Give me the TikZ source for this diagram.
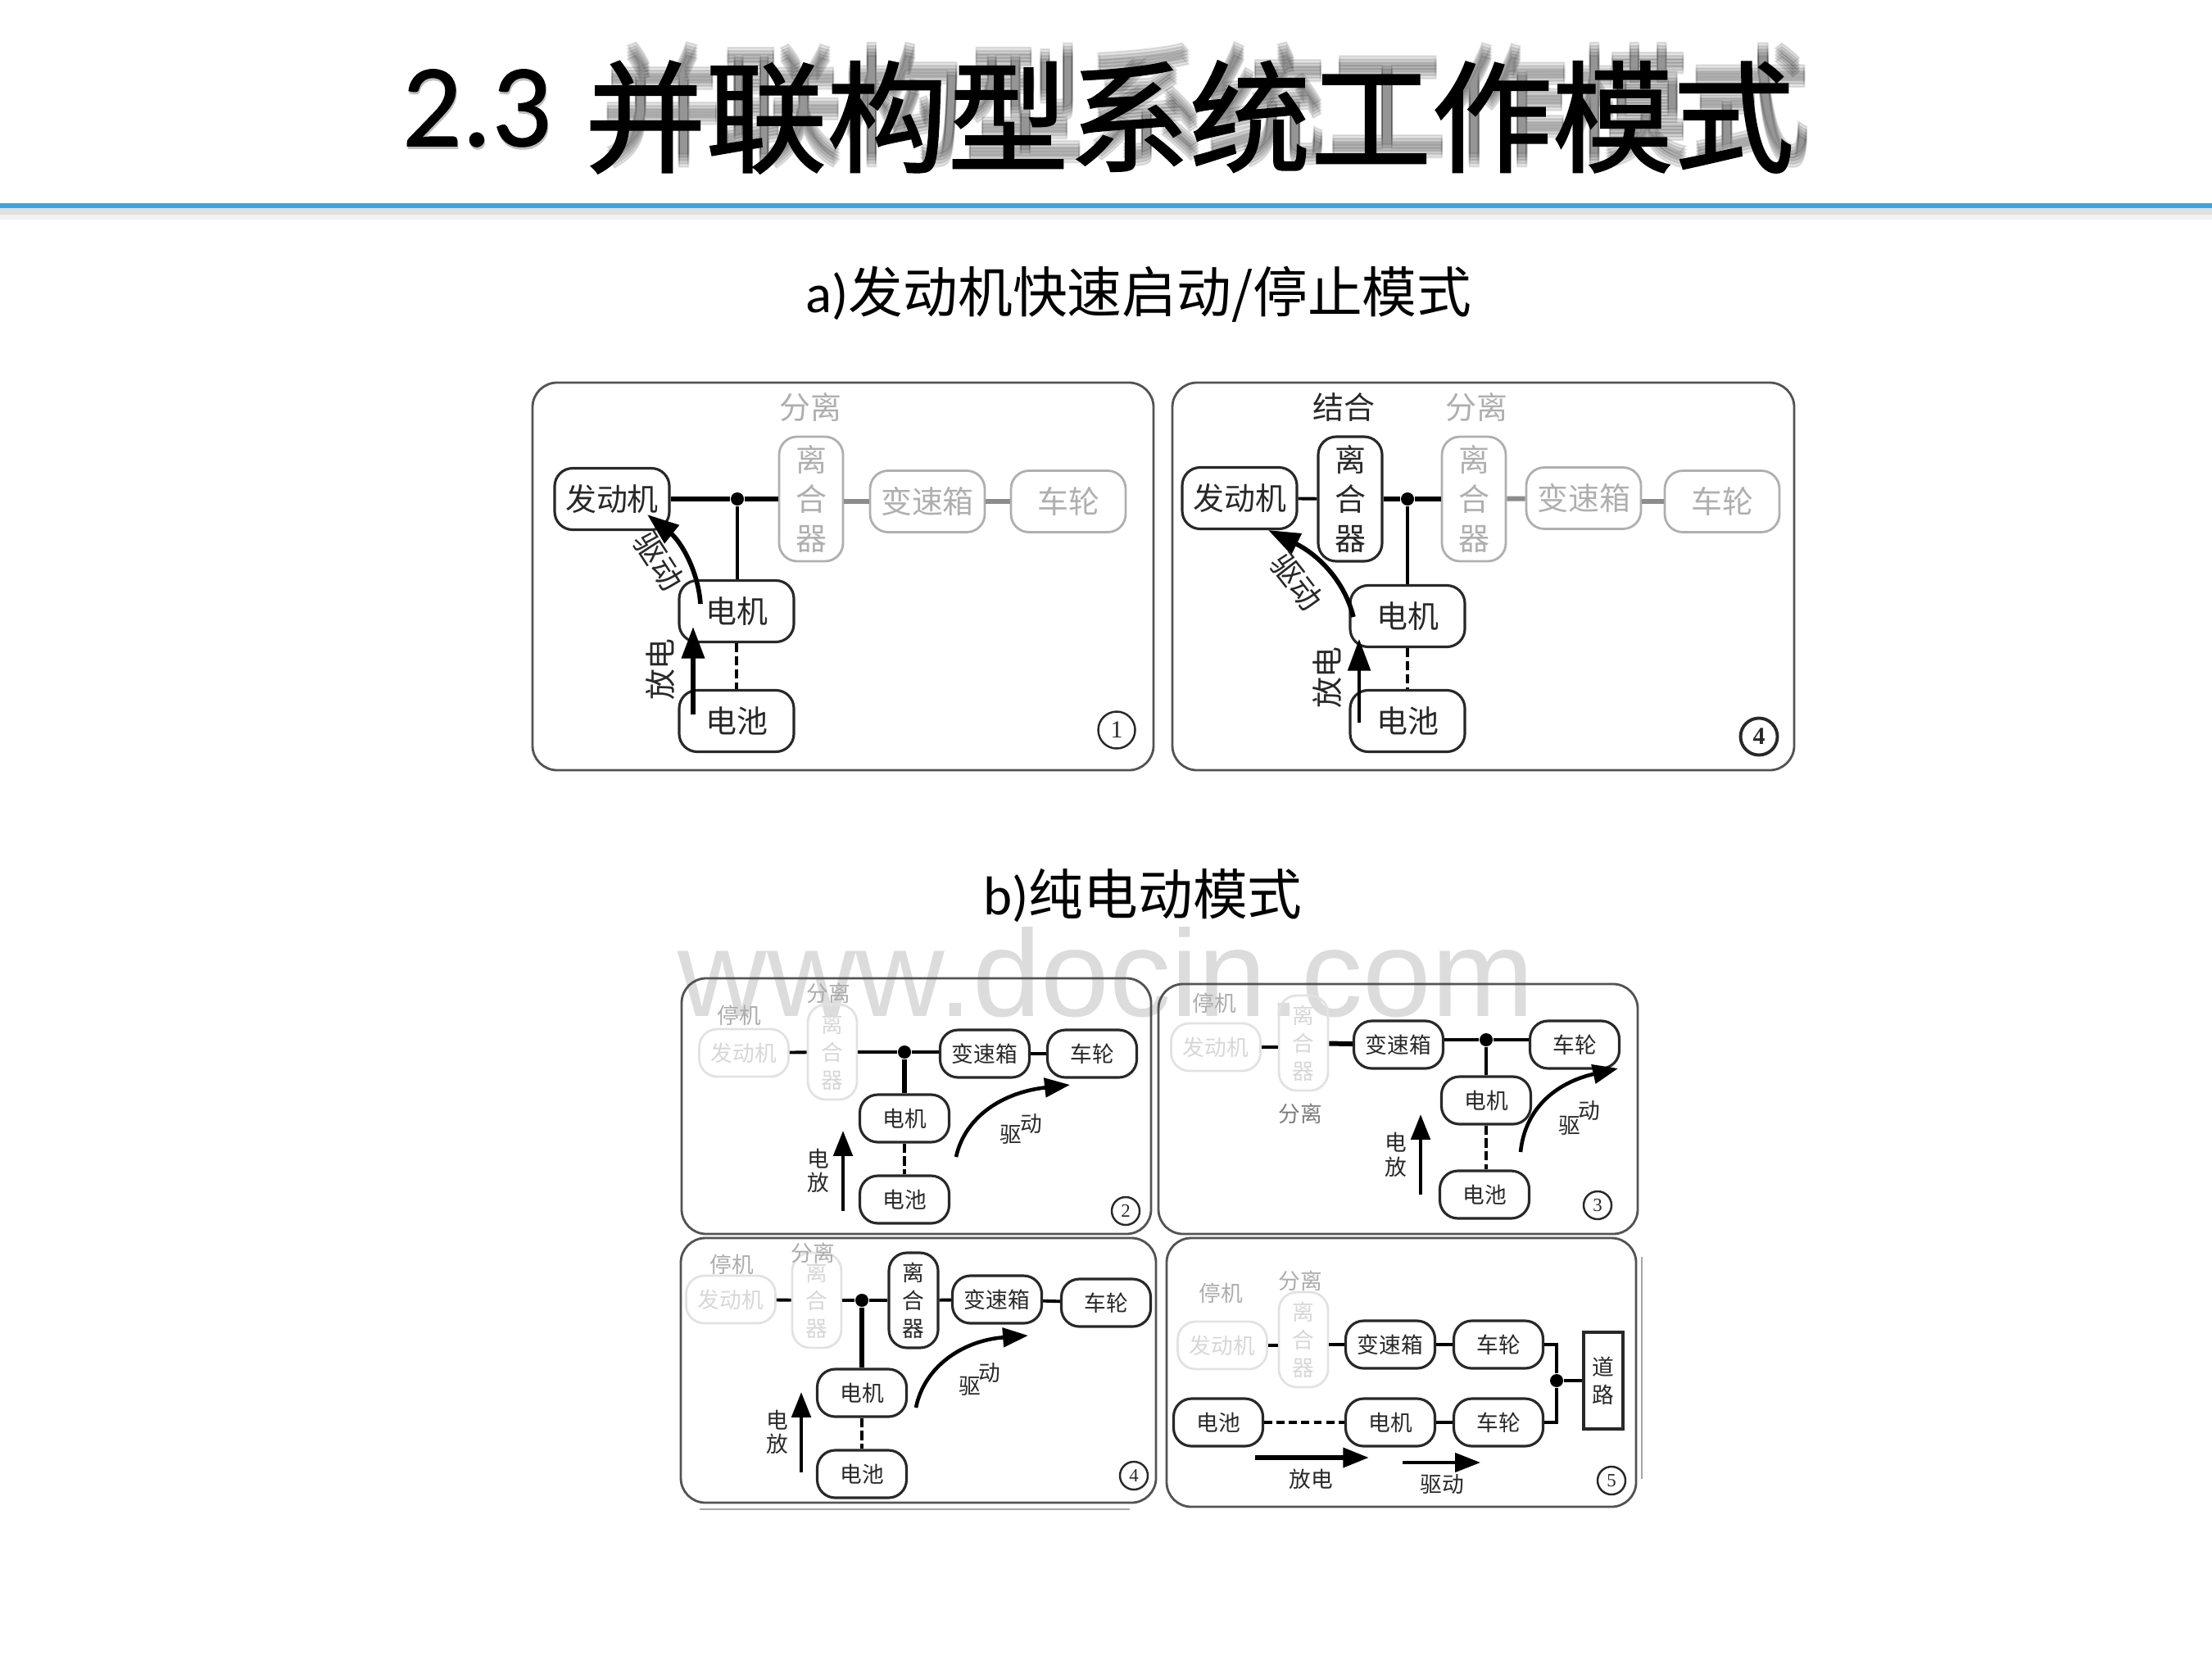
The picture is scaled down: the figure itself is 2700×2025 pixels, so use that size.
\documentclass[tikz,border=0pt]{standalone}
\usepackage{xcolor}
\usepackage{fontspec}
\setmainfont{Noto Sans CJK SC}
\newfontfamily\latfont{Carlito}
\newfontfamily\titlefont[FakeBold=1.4]{Noto Sans CJK SC}
\newfontfamily\titlenumfont[FakeBold=0.8]{Carlito}
\newfontfamily\numfont{Liberation Serif}
\newfontfamily\wmfont{Liberation Sans}
\usepackage{tikz}
\usetikzlibrary{arrows.meta, positioning}
\definecolor{myblue}{RGB}{58,166,224}
\definecolor{mydark}{RGB}{40,40,40}
\definecolor{mygray}{RGB}{175,175,175}
\definecolor{mypale}{RGB}{226,226,226}
\definecolor{mypaletext}{RGB}{215,215,215}
\definecolor{mywater}{RGB}{220,220,220}
\tikzset{
  bigfont/.style={font=\fontsize{10.8}{13.6}\selectfont},
  smallfont/.style={font=\fontsize{7.6}{9.7}\selectfont},
  unit/.style={rectangle,rounded corners=2.2mm,inner sep=0pt,align=center},
  bigunit/.style={unit,bigfont,minimum width=14mm,minimum height=7.5mm},
  bigclutch/.style={unit,bigfont,minimum width=7.8mm,minimum height=15.2mm},
  smallunit/.style={unit,smallfont,minimum width=10.9mm,minimum height=5.8mm},
  smallclutch/.style={unit,smallfont,minimum width=6mm,minimum height=11.6mm},
  oncol/.style={draw=mydark,line width=0.9pt,text=mydark},
  fadecol/.style={draw=mygray,line width=0.8pt,text=mygray},
  palecol/.style={draw=mypale,line width=0.8pt,text=mypaletext},
  panel/.style={draw=mydark!80,line width=0.8pt,rounded corners=3mm},
  residue/.style={draw=black!35,line width=0.6pt},
  junct/.style={circle,fill=black,inner sep=0pt,minimum size=1.6mm},
  bigshaft/.style={line width=1.5pt,color=black},
  bigfade/.style={line width=1.7pt,color=mygray!80!black},
  shaft/.style={line width=1.1pt,color=black},
  fatshaft/.style={line width=1.7pt,color=black},
  dashlink/.style={line width=1.3pt,color=black,dash pattern=on 3.2pt off 1.3pt},
  bigarrow/.style={-{Triangle[length=11pt,width=7.8pt]},line width=1.6pt,color=black},
  smallarrow/.style={-{Triangle[length=8.8pt,width=6.6pt]},line width=1.3pt,color=black},
  numring/.style={circle,draw=mydark,line width=0.7pt,inner sep=0pt,minimum size=3.4mm,
    text=mydark,font=\numfont\fontsize{6.5}{7}\selectfont},
  bignumring/.style={numring,minimum size=4.5mm,font=\numfont\fontsize{8.5}{9}\selectfont},
  tag/.style={inner sep=0pt,text=mydark,smallfont},
  fadetag/.style={inner sep=0pt,text=mypaletext!80!black,smallfont},
  bigtag/.style={inner sep=0pt,text=mydark,bigfont}
}

\begin{document}
\begin{tikzpicture}[x=0.1mm,y=-0.1mm]
  \useasboundingbox (0,0) rectangle (2700,2025);

  % ── Heading ───────────────────────────────────────────────────────────────
  \fill[black!12] (0,254) rectangle (2700,262);
  \fill[black!5] (0,262) rectangle (2700,268);
  \fill[myblue] (0,248) rectangle (2700,254);
  \foreach \dy in {-8,-4,0,4,8}
    \node[inner sep=0pt,text=black,text opacity=0.1,font=\titlefont\fontsize{42}{46}\selectfont]
      (titleshade\dy) at (1472,128+\dy) {并联构型系统工作模式};
  \node[inner sep=0pt,text=black!25,font=\titlenumfont\fontsize{41}{45}\selectfont]
    (numshade) at (583,135) {2.3};
  \node[inner sep=0pt,text=black,font=\titlenumfont\fontsize{41}{45}\selectfont]
    (titlenum) at (582,132) {2.3};
  \node[inner sep=0pt,text=black,font=\titlefont\fontsize{42}{46}\selectfont]
    (titlemain) at (1452,143) {并联构型系统工作模式};

  \node[inner sep=0pt,font=\fontsize{19}{22}\selectfont] (suba) at (1390,359)
    {{\latfont a)}发动机快速启动/停止模式};
  \node[inner sep=0pt,font=\fontsize{19}{22}\selectfont] (subb) at (1395,1093)
    {{\latfont b)}纯电动模式};

  % ── Watermark (sits behind the lower panels) ──────────────────────────────
  \node[inner sep=0pt,anchor=base west,text=mywater,font=\wmfont\fontsize{42.8}{46}\selectfont]
    (water) at (827,1240) {www.docin.com};

  % ── Panel: start from battery, clutch open ────────────────────────────────
  \draw[panel] (650,467) rectangle (1408,940);
  \node[bigunit,oncol] (engA) at (747,609) {发动机};
  \node[bigclutch,fadecol] (clutchA) at (990,609) {离\\合\\器};
  \node[bigunit,fadecol] (gearA) at (1132,612) {变速箱};
  \node[bigunit,fadecol] (wheelA) at (1304,612) {车轮};
  \node[bigunit,oncol] (motorA) at (899,746) {电机};
  \node[bigunit,oncol] (battA) at (899,880) {电池};
  \node[junct] (jA) at (900,609) {};
  \node[inner sep=0pt,text=mygray,bigfont] (openA) at (989,497) {分离};
  \draw[bigshaft] (engA) -- (jA);
  \draw[bigshaft] (jA) -- (clutchA);
  \draw[shaft,line width=1.3pt] (jA) -- (jA |- motorA.north);
  \draw[bigfade] (clutchA.east |- gearA) -- (gearA);
  \draw[bigfade] (gearA) -- (wheelA);
  \draw[dashlink] (motorA) -- (battA);
  \coordinate (disA0) at (846,872);
  \coordinate (disA1) at (846,765);
  \coordinate (drvA0) at (855,737);
  \coordinate (drvA1) at (790,628);
  \draw[bigarrow] (disA0) -- (disA1);
  \draw[bigarrow] (drvA0) .. controls (852,695) and (830,660) .. (drvA1);
  \node[bigtag,rotate=90] (disAtag) at (806,817) {放电};
  \node[bigtag,rotate=-57] (drvAtag) at (804,685) {驱动};
  \node[bignumring] (numA) at (1363,891) {1};

  % ── Panel: start from battery, clutch closed ──────────────────────────────
  \draw[panel] (1431,467) rectangle (2190,940);
  \node[bigunit,oncol] (engB) at (1513,608) {发动机};
  \node[bigclutch,oncol] (clutchB) at (1648,609) {离\\合\\器};
  \node[bigclutch,fadecol] (openB) at (1799,609) {离\\合\\器};
  \node[bigunit,fadecol] (gearB) at (1933,608) {变速箱};
  \node[bigunit,fadecol] (wheelB) at (2102,612) {车轮};
  \node[bigunit,oncol] (motorB) at (1718,752) {电机};
  \node[bigunit,oncol] (battB) at (1718,880) {电池};
  \node[junct] (jB) at (1718,609) {};
  \node[inner sep=0pt,text=mydark,bigfont] (closeBtag) at (1640,497) {结合};
  \node[inner sep=0pt,text=mygray,bigfont] (openBtag) at (1802,497) {分离};
  \draw[shaft] (engB) -- (clutchB);
  \draw[bigshaft] (clutchB) -- (jB);
  \draw[bigshaft] (jB) -- (openB);
  \draw[shaft,line width=1.3pt] (jB) -- (motorB);
  \draw[bigfade] (openB) -- (gearB);
  \draw[bigfade] (gearB.east |- wheelB) -- (wheelB);
  \draw[dashlink] (motorB) -- (battB);
  \coordinate (disB0) at (1659,882);
  \coordinate (disB1) at (1659,780);
  \coordinate (drvB0) at (1652,753);
  \coordinate (drvB1) at (1548,647);
  \draw[bigarrow,line width=1.2pt] (disB0) -- (disB1);
  \draw[bigarrow] (drvB0) .. controls (1640,705) and (1605,675) .. (drvB1);
  \node[bigtag,rotate=90] (disBtag) at (1620,827) {放电};
  \node[bigtag,rotate=-52] (drvBtag) at (1583,710) {驱动};
  \node[bignumring,line width=1.1pt,font=\numfont\bfseries\fontsize{8.5}{9}\selectfont]
    (numB) at (2147,899) {4};

  % ── Panel: drive from motor, before gearbox ───────────────────────────────
  \draw[panel] (832,1194) rectangle (1405,1506);
  \node[smallunit,palecol] (engC) at (908,1285) {发动机};
  \node[smallclutch,palecol] (clutchC) at (1016,1284) {离\\合\\器};
  \node[smallunit,oncol] (gearC) at (1202,1286) {变速箱};
  \node[smallunit,oncol] (wheelC) at (1333,1286) {车轮};
  \node[smallunit,oncol] (motorC) at (1104,1365) {电机};
  \node[smallunit,oncol] (battC) at (1104,1464) {电池};
  \node[junct] (jC) at (1104,1284) {};
  \node[fadetag] (stopC) at (902,1239) {停机};
  \node[fadetag] (openC) at (1011,1212) {分离};
  \draw[shaft] (engC) -- (clutchC);
  \draw[shaft] (clutchC) -- (jC);
  \draw[shaft] (jC) -- (gearC.west |- jC);
  \draw[fatshaft] (jC) -- (motorC);
  \draw[shaft] (gearC) -- (wheelC);
  \draw[dashlink] (motorC) -- (battC);
  \coordinate (disC0) at (1029,1478);
  \coordinate (disC1) at (1029,1380);
  \coordinate (drvC0) at (1167,1412);
  \coordinate (drvC1) at (1306,1324);
  \draw[smallarrow] (disC0) -- (disC1);
  \draw[smallarrow] (drvC0) .. controls (1178,1362) and (1225,1333) .. (drvC1);
  \node[tag] (disCa) at (999,1414) {电};
  \node[tag] (disCb) at (999,1443) {放};
  \node[tag] (drvCa) at (1234,1385) {驱};
  \node[tag] (drvCb) at (1259,1372) {动};
  \node[numring] (numC) at (1374,1478) {2};

  % ── Panel: drive from motor, after gearbox ────────────────────────────────
  \draw[panel] (1414,1201) rectangle (1999,1506);
  \node[smallunit,palecol] (engD) at (1484,1278) {发动机};
  \node[smallclutch,palecol] (clutchD) at (1591,1273) {离\\合\\器};
  \node[smallunit,oncol] (gearD) at (1707,1275) {变速箱};
  \node[smallunit,oncol] (wheelD) at (1922,1275) {车轮};
  \node[smallunit,oncol] (motorD) at (1814,1343) {电机};
  \node[smallunit,oncol] (battD) at (1812,1458) {电池};
  \node[junct] (jD) at (1814,1269) {};
  \node[fadetag] (stopD) at (1482,1224) {停机};
  \node[fadetag,text=mydark!60] (openD) at (1587,1359) {分离};
  \draw[shaft] (engD.east) -- (clutchD.west |- engD);
  \draw[fatshaft] (clutchD) -- (gearD);
  \draw[shaft] (gearD.east |- jD) -- (jD);
  \draw[shaft] (jD) -- (wheelD.west |- jD);
  \draw[shaft,line width=1.3pt] (jD) -- (motorD);
  \draw[dashlink] (motorD.south) -- (motorD.south |- battD.north);
  \coordinate (disD0) at (1734,1458);
  \coordinate (disD1) at (1734,1360);
  \coordinate (drvD0) at (1856,1406);
  \coordinate (drvD1) at (1975,1304);
  \draw[smallarrow] (disD0) -- (disD1);
  \draw[smallarrow] (drvD0) .. controls (1862,1348) and (1905,1320) .. (drvD1);
  \node[tag] (disDa) at (1704,1394) {电};
  \node[tag] (disDb) at (1704,1424) {放};
  \node[tag] (drvDa) at (1916,1374) {驱};
  \node[tag] (drvDb) at (1940,1356) {动};
  \node[numring] (numD) at (1950,1471) {3};

  % ── Panel: drive through clutch ───────────────────────────────────────────
  \draw[panel] (831,1511) rectangle (1411,1834);
  \draw[residue] (854,1842) -- (1379,1842);
  \node[smallunit,palecol] (engE) at (892,1586) {发动机};
  \node[smallclutch,palecol] (clutchE) at (997,1587) {离\\合\\器};
  \node[smallclutch,oncol] (closeE) at (1115,1587) {离\\合\\器};
  \node[smallunit,oncol] (gearE) at (1217,1586) {变速箱};
  \node[smallunit,oncol] (wheelE) at (1350,1590) {车轮};
  \node[smallunit,oncol] (motorE) at (1052,1700) {电机};
  \node[smallunit,oncol] (battE) at (1052,1799) {电池};
  \node[junct] (jE) at (1052,1587) {};
  \node[fadetag] (stopE) at (893,1543) {停机};
  \node[fadetag] (openE) at (992,1529) {分离};
  \draw[shaft] (engE) -- (clutchE);
  \draw[shaft] (clutchE) -- (jE);
  \draw[shaft] (jE) -- (closeE);
  \draw[fatshaft] (jE) -- (motorE);
  \draw[shaft] (closeE) -- (gearE);
  \draw[shaft] (gearE) -- (wheelE);
  \draw[dashlink] (motorE) -- (battE);
  \coordinate (disE0) at (978,1797);
  \coordinate (disE1) at (978,1699);
  \coordinate (drvE0) at (1118,1718);
  \coordinate (drvE1) at (1255,1630);
  \draw[smallarrow] (disE0) -- (disE1);
  \draw[smallarrow] (drvE0) .. controls (1128,1668) and (1175,1636) .. (drvE1);
  \node[tag] (disEa) at (949,1733) {电};
  \node[tag] (disEb) at (949,1762) {放};
  \node[tag] (drvEa) at (1184,1692) {驱};
  \node[tag] (drvEb) at (1208,1676) {动};
  \node[numring] (numE) at (1384,1801) {4};

  % ── Panel: separate axle drive ────────────────────────────────────────────
  \draw[panel] (1424,1511) rectangle (1997,1839);
  \draw[residue] (2004,1534) -- (2004,1805);
  \node[smallunit,palecol] (engF) at (1492,1642) {发动机};
  \node[smallclutch,palecol] (clutchF) at (1591,1635) {离\\合\\器};
  \node[smallunit,oncol] (gearF) at (1697,1641) {变速箱};
  \node[smallunit,oncol] (wheelF) at (1829,1641) {车轮};
  \node[smallunit,oncol] (battF) at (1487,1736) {电池};
  \node[smallunit,oncol] (motorF) at (1697,1736) {电机};
  \node[smallunit,oncol] (wheelG) at (1829,1736) {车轮};
  \node[rectangle,draw=mydark,line width=0.9pt,minimum width=4.8mm,minimum height=11.8mm,
    inner sep=0pt,align=center,text=mydark,smallfont] (road) at (1957,1685) {道\\路};
  \node[junct] (jF) at (1900,1685) {};
  \node[fadetag] (stopF) at (1490,1578) {停机};
  \node[fadetag] (openF) at (1587,1563) {分离};
  \draw[shaft] (engF.east) -- (clutchF.west |- engF);
  \draw[shaft] (clutchF.east |- gearF) -- (gearF);
  \draw[shaft] (gearF) -- (wheelF);
  \draw[shaft] (wheelF.east) -| (jF);
  \draw[shaft] (wheelG.east) -| (jF);
  \draw[shaft] (jF) -- (road);
  \draw[shaft] (motorF) -- (wheelG);
  \draw[dashlink,dash pattern=on 2.8pt off 1.5pt] (battF) -- (motorF);
  \coordinate (disF0) at (1532,1779);
  \coordinate (disF1) at (1671,1779);
  \coordinate (drvF0) at (1712,1785);
  \coordinate (drvF1) at (1807,1785);
  \draw[smallarrow,line width=1.7pt,-{Triangle[length=9pt,width=6.6pt]}] (disF0) -- (disF1);
  \draw[smallarrow,line width=1pt] (drvF0) -- (drvF1);
  \node[tag] (disFtag) at (1600,1805) {放电};
  \node[tag] (drvFtag) at (1760,1812) {驱动};
  \node[numring] (numF) at (1967,1807) {5};
\end{tikzpicture}
\end{document}
